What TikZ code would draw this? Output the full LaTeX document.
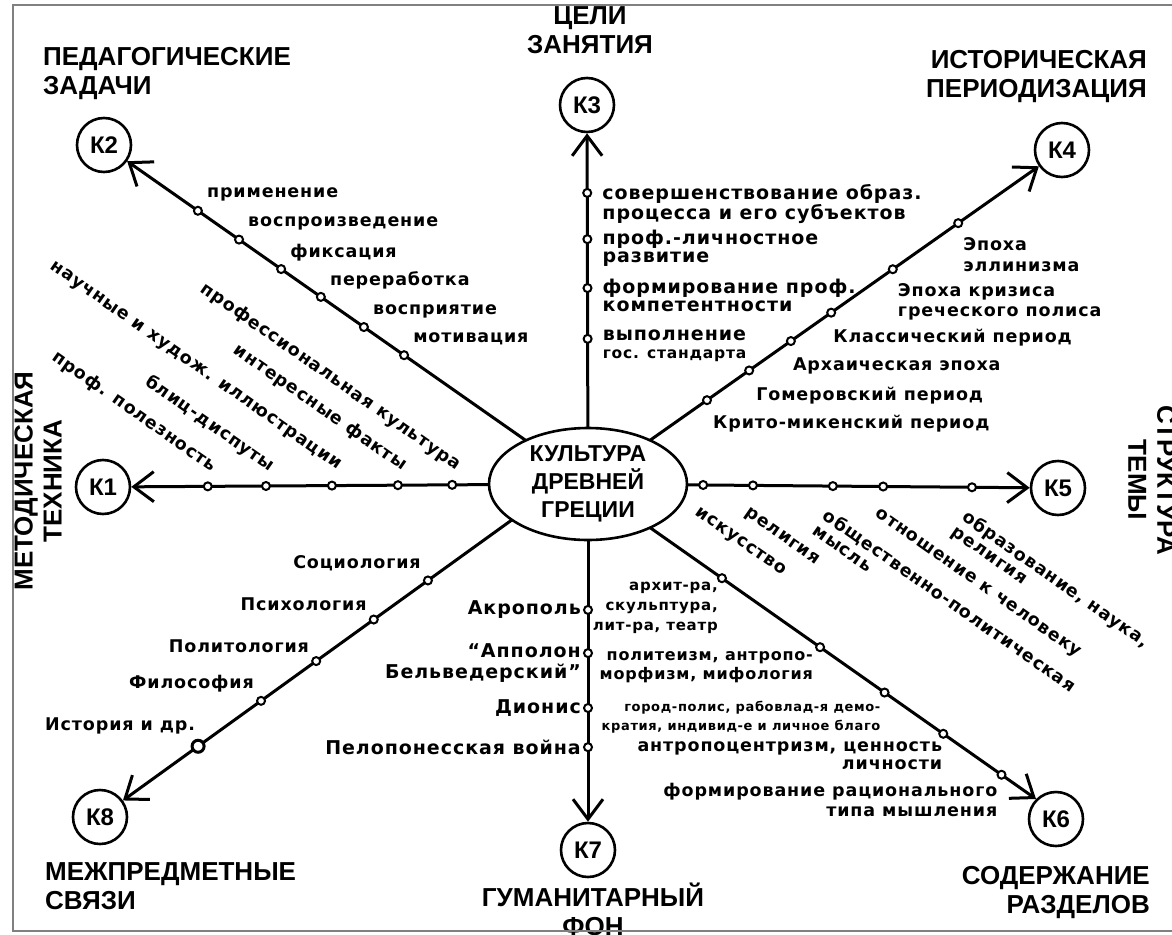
\documentclass[tikz,border=0pt]{standalone}
\usepackage{fontspec}
\setmainfont{DejaVu Sans}
\newfontfamily\headfont{Liberation Sans}
\newfontfamily\lblfont[LetterSpace=5]{DejaVu Sans}
\usetikzlibrary{calc,shapes.geometric,arrows.meta}
\tikzset{
  ray/.style={line width=3pt, -{Straight Barb[length=20pt,width=30pt]}},
  kring/.style={circle, draw, line width=2.6pt, minimum size=54pt, inner sep=0pt, font=\headfont\bfseries\fontsize{24}{24}\selectfont},
  hub/.style={ellipse, draw, fill=white, line width=2.6pt, minimum width=198pt, minimum height=112pt, inner sep=0pt, align=center, font=\headfont\bfseries\fontsize{23}{28}\selectfont},
  dot/.style={circle, draw, line width=2pt, fill=white, minimum size=8pt, inner sep=0pt},
  bigdot/.style={dot, line width=3pt, minimum size=12pt},
  lbl/.style={font=\lblfont\bfseries\fontsize{17.5}{18}\selectfont, inner sep=0pt},
  lblbig/.style={font=\lblfont\bfseries\fontsize{19}{18}\selectfont, inner sep=0pt},
  lblsm/.style={font=\lblfont\bfseries\fontsize{15}{20}\selectfont, inner sep=0pt},
  lbltn/.style={font=\lblfont\bfseries\fontsize{13}{19}\selectfont, inner sep=0pt},
  head/.style={font=\headfont\bfseries\fontsize{26}{29}\selectfont, inner sep=0pt},
}
\begin{document}
\begin{tikzpicture}[x=1pt,y=-1pt]
  %%%%% START %%%%%
  \useasboundingbox (0,0) rectangle (1172,934);
  \clip (0,0) rectangle (1172,934);

  \node[kring] (k1) at (103,487) {К1};
  \node[kring] (k2) at (104,145) {К2};
  \node[kring] (k3) at (587,105) {К3};
  \node[kring] (k4) at (1062,150) {К4};
  \node[kring] (k5) at (1058,488) {К5};
  \node[kring] (k6) at (1056,819) {К6};
  \node[kring] (k7) at (588,850) {К7};
  \node[kring] (k8) at (100,817) {К8};

  \coordinate (hubc) at (588,484);
  \coordinate (k8aim) at (588,465);

  \draw[ray] (hubc) -- (k1);
  \draw[ray] (hubc) -- (k2);
  \draw[ray] (hubc) -- (k3);
  \draw[ray] (hubc) -- (k4);
  \draw[ray] (hubc) -- (k5);
  \draw[ray] (hubc) -- (k6.135);
  \draw[ray] (hubc) -- (k7);
  \draw[ray] (k8aim) -- (k8);

  \node[hub] (hub) at (hubc) {КУЛЬТУРА\\ДРЕВНЕЙ\\ГРЕЦИИ};

  % K1 - methodical technique
  \node[dot] (k1a) at ($(hubc)!0.280!(k1)$) {};
  \node[dot] (k1b) at ($(hubc)!0.392!(k1)$) {};
  \node[dot] (k1c) at ($(hubc)!0.528!(k1)$) {};
  \node[dot] (k1d) at ($(hubc)!0.664!(k1)$) {};
  \node[dot] (k1e) at ($(hubc)!0.784!(k1)$) {};
  \node[lbl, rotate=-35, anchor=east] (t1a) at ($(k1a)+(7,-18)$) {профессиональная культура};
  \node[lbl, rotate=-35, anchor=east] (t1b) at ($(k1b)+(7,-18)$) {интересные факты};
  \node[lbl, rotate=-35, anchor=east] (t1c) at ($(k1c)+(7,-18)$) {научные и худож. иллюстрации};
  \node[lbl, rotate=-35, anchor=east] (t1d) at ($(k1d)+(7,-18)$) {блиц-диспуты};
  \node[lbl, rotate=-35, anchor=east] (t1e) at ($(k1e)+(7,-18)$) {проф. полезность};

  % K2 - pedagogical tasks
  \node[dot] (k2a) at ($(hubc)!0.380!(k2)$) {};
  \node[dot] (k2b) at ($(hubc)!0.463!(k2)$) {};
  \node[dot] (k2c) at ($(hubc)!0.552!(k2)$) {};
  \node[dot] (k2d) at ($(hubc)!0.634!(k2)$) {};
  \node[dot] (k2e) at ($(hubc)!0.721!(k2)$) {};
  \node[dot] (k2f) at ($(hubc)!0.806!(k2)$) {};
  \node[lbl, anchor=west] (t2a) at ($(k2a)+(9,-16)$) {мотивация};
  \node[lbl, anchor=west] (t2b) at ($(k2b)+(9,-16)$) {восприятие};
  \node[lbl, anchor=west] (t2c) at ($(k2c)+(9,-16)$) {переработка};
  \node[lbl, anchor=west] (t2d) at ($(k2d)+(9,-16)$) {фиксация};
  \node[lbl, anchor=west] (t2e) at ($(k2e)+(9,-16)$) {воспроизведение};
  \node[lbl, anchor=west] (t2f) at ($(k2f)+(9,-16)$) {применение};

  % K3 - aims
  \node[dot] (k3a) at ($(hubc)!0.383!(k3)$) {};
  \node[dot] (k3b) at ($(hubc)!0.517!(k3)$) {};
  \node[dot] (k3c) at ($(hubc)!0.646!(k3)$) {};
  \node[dot] (k3d) at ($(hubc)!0.768!(k3)$) {};
  \node[lblbig, anchor=north west, align=left] (t3a) at ($(k3a)+(15,-9)$) {выполнение\\{\fontsize{15.5}{18}\selectfont гос. стандарта}};
  \node[lblbig, anchor=north west, align=left] (t3b) at ($(k3b)+(15,-9)$) {формирование проф.\\компетентности};
  \node[lblbig, anchor=north west, align=left] (t3c) at ($(k3c)+(15,-9)$) {проф.-личностное\\развитие};
  \node[lblbig, anchor=north west, align=left] (t3d) at ($(k3d)+(15,-9)$) {совершенствование образ.\\процесса и его субъектов};

  % K4 - periods
  \node[dot] (k4a) at ($(hubc)!0.251!(k4)$) {};
  \node[dot] (k4b) at ($(hubc)!0.340!(k4)$) {};
  \node[dot] (k4c) at ($(hubc)!0.428!(k4)$) {};
  \node[dot] (k4d) at ($(hubc)!0.513!(k4)$) {};
  \node[dot] (k4e) at ($(hubc)!0.643!(k4)$) {};
  \node[dot] (k4f) at ($(hubc)!0.781!(k4)$) {};
  \node[lbl, anchor=west] (t4a) at ($(k4a)+(6,23)$) {Крито-микенский период};
  \node[lbl, anchor=west] (t4b) at ($(k4b)+(7,25)$) {Гомеровский период};
  \node[lbl, anchor=west] (t4c) at ($(k4c)+(2,25)$) {Архаическая эпоха};
  \node[lbl, anchor=west] (t4d) at ($(k4d)+(2,25)$) {Классический период};
  \node[lbl, anchor=north west, align=left, font=\lblfont\bfseries\fontsize{17.5}{20}\selectfont] (t4e) at ($(k4e)+(5,14)$) {Эпоха кризиса\\греческого полиса};
  \node[lbl, anchor=north west, align=left, font=\lblfont\bfseries\fontsize{17.5}{21}\selectfont] (t4f) at ($(k4f)+(5,14)$) {Эпоха\\эллинизма};

  % K5 - structure
  \node[dot] (k5a) at ($(hubc)!0.245!(k5)$) {};
  \node[dot] (k5b) at ($(hubc)!0.351!(k5)$) {};
  \node[dot] (k5c) at ($(hubc)!0.521!(k5)$) {};
  \node[dot] (k5d) at ($(hubc)!0.628!(k5)$) {};
  \node[dot] (k5e) at ($(hubc)!0.817!(k5)$) {};
  \node[lbl, rotate=-35, anchor=north west, align=left] (t5a) at ($(k5a)+(-3,21)$) {искусство};
  \node[lbl, rotate=-35, anchor=north west, align=left] (t5b) at ($(k5b)+(-3,21)$) {религия};
  \node[lbl, rotate=-35, anchor=north west, align=left] (t5c) at ($(k5c)+(-3,21)$) {общественно-политическая\\мысль};
  \node[lbl, rotate=-35, anchor=north west, align=left] (t5d) at ($(k5d)+(-3,21)$) {отношение к человеку};
  \node[lbl, rotate=-35, anchor=north west, align=left] (t5e) at ($(k5e)+(-3,21)$) {образование, наука,\\религия};

  % K6 - content
  \node[dot] (k6a) at ($(hubc)!0.299!(k6.135)$) {};
  \node[dot] (k6b) at ($(hubc)!0.518!(k6.135)$) {};
  \node[dot] (k6c) at ($(hubc)!0.662!(k6.135)$) {};
  \node[dot] (k6d) at ($(hubc)!0.793!(k6.135)$) {};
  \node[dot] (k6e) at ($(hubc)!0.923!(k6.135)$) {};
  \node[lblsm, anchor=north east, align=right] (t6a) at ($(k6a)+(-4,4)$) {архит-ра,\\скульптура,\\лит-ра, театр};
  \node[lbl, anchor=north east, align=right, font=\lblfont\bfseries\fontsize{16}{19}\selectfont] (t6b) at ($(k6b)+(-7,4)$) {политеизм, антропо-\\морфизм, мифология};
  \node[lbltn, anchor=north east, align=right] (t6c) at ($(k6c)+(-4,8)$) {город-полис, рабовлад-я демо-\\кратия, индивид-е и личное благо};
  \node[lbl, anchor=north east, align=right] (t6d) at ($(k6d)+(-1,8)$) {антропоцентризм, ценность\\личности};
  \node[lbl, anchor=north east, align=right, font=\lblfont\bfseries\fontsize{17.5}{20}\selectfont] (t6e) at ($(k6e)+(-4,8)$) {формирование рационального\\типа мышления};

  % K7 - humanitarian background
  \node[dot] (k7a) at ($(hubc)!0.344!(k7)$) {};
  \node[dot] (k7b) at ($(hubc)!0.462!(k7)$) {};
  \node[dot] (k7c) at ($(hubc)!0.612!(k7)$) {};
  \node[dot] (k7d) at ($(hubc)!0.719!(k7)$) {};
  \node[lblbig, anchor=east] (t7a) at ($(k7a)+(-7,0)$) {Акрополь};
  \node[lblbig, anchor=north east, align=right, font=\lblfont\bfseries\fontsize{19}{21}\selectfont] (t7b) at ($(k7b)+(-7,-10)$) {“Апполон\\Бельведерский”};
  \node[lblbig, anchor=east] (t7c) at ($(k7c)+(-7,0)$) {Дионис};
  \node[lblbig, anchor=east] (t7d) at ($(k7d)+(-7,0)$) {Пелопонесская война};

  % K8 - related subjects
  \node[dot] (k8a) at ($(k8aim)!0.328!(k8)$) {};
  \node[dot] (k8b) at ($(k8aim)!0.439!(k8)$) {};
  \node[dot] (k8c) at ($(k8aim)!0.557!(k8)$) {};
  \node[dot] (k8d) at ($(k8aim)!0.670!(k8)$) {};
  \node[bigdot] (k8e) at ($(k8aim)!0.799!(k8)$) {};
  \node[lbl, anchor=east] (t8a) at ($(k8a)+(-7,-17)$) {Социология};
  \node[lbl, anchor=east] (t8b) at ($(k8b)+(-7,-15)$) {Психология};
  \node[lbl, anchor=east] (t8c) at ($(k8c)+(-7,-15)$) {Политология};
  \node[lbl, anchor=east] (t8d) at ($(k8d)+(-7,-17)$) {Философия};
  \node[lbl, anchor=east] (t8e) at ($(k8e)+(-3,-20)$) {История и др.};

  % headings
  \node[head, anchor=north west, align=left] (h2) at (43,47) {ПЕДАГОГИЧЕСКИЕ\\ЗАДАЧИ};
  \node[head, anchor=north, align=center] (h3) at (590,6) {ЦЕЛИ\\ЗАНЯТИЯ};
  \node[head, anchor=north east, align=right] (h4) at (1147,50) {ИСТОРИЧЕСКАЯ\\ПЕРИОДИЗАЦИЯ};
  \node[head, rotate=90, align=center] (h1) at (38,481) {МЕТОДИЧЕСКАЯ\\ТЕХНИКА};
  \node[head, rotate=-90, align=center] (h5) at (1152,480) {СТРУКТУРА\\ТЕМЫ};
  \node[head, anchor=north west, align=left] (h8) at (45,862) {МЕЖПРЕДМЕТНЫЕ\\СВЯЗИ};
  \node[head, anchor=north, align=center] (h7) at (593,883) {ГУМАНИТАРНЫЙ\\ФОН};
  \node[head, anchor=north east, align=right] (h6) at (1150,866) {СОДЕРЖАНИЕ\\РАЗДЕЛОВ};

  % frame
  \draw[gray, line width=2pt] (1172,5) -- (13,5) -- (13,931) -- (1172,931);
  %%%%% END %%%%%
\end{tikzpicture}
\end{document}
